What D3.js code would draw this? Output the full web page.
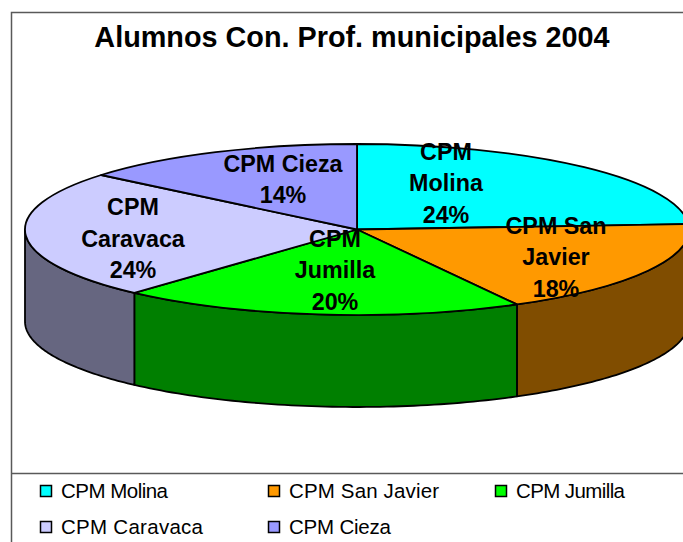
<!DOCTYPE html>
<html><head><meta charset="utf-8">
<script src="https://cdn.jsdelivr.net/npm/d3@7/dist/d3.min.js"></script>
<style>html,body{margin:0;padding:0;background:#fff;overflow:hidden}svg{display:block}text{font-family:"Liberation Sans",Arial,sans-serif}</style>
</head><body>
<script>
const title = "Alumnos Con. Prof. municipales 2004";
const categories = ["CPM Molina","CPM San Javier","CPM Jumilla","CPM Caravaca","CPM Cieza"];
const values = [24,18,19.7,24.3,14];
const topColors = ["#00ffff","#ff9900","#00ff00","#ccccff","#9999ff"];
const sideColors = ["#008080","#804d00","#007f00","#666680","#4d4d80"];
const labelLines = [["CPM","Molina"],["CPM San","Javier"],["CPM","Jumilla"],["CPM","Caravaca"],["CPM Cieza"]];
const labelAnchors = [[446,159.5],[556,233.5],[335,246.5],[133,215],[283,171.5]];
const legendTextWidths = [107,150,109,142,102];

const W=683,H=542,cx=357,cy=229.5,rx=332,ry=85.5,depth=92;
const svg=d3.select("body").append("svg").attr("width",W).attr("height",H);
svg.append("rect").attr("width",W).attr("height",H).attr("fill","#fff");
const frame="#595959";
svg.append("path").attr("d",`M${W},12.5H11.5V${H}M11.5,473.5H${W}`).attr("fill","none").attr("stroke",frame).attr("stroke-width",1.5);

svg.append("text").attr("x",352).attr("y",47).attr("text-anchor","middle")
  .attr("font-size",28.8).attr("font-weight","bold").text(title);

const arcs=d3.pie().sort(null).value(d=>d)(values);
const pt=a=>[cx+rx*Math.sin(a),cy-ry*Math.cos(a)];
const lo=Math.PI/2,hi=Math.PI*1.5;
// walls: only the front half of the rim is visible
arcs.forEach((d,i)=>{
  const a0=Math.max(d.startAngle,lo),a1=Math.min(d.endAngle,hi);
  if(a1<=a0) return;
  const samples=d3.range(0,61).map(k=>a0+(a1-a0)*k/60);
  const area=d3.area().x(a=>pt(a)[0]).y0(a=>pt(a)[1]).y1(a=>pt(a)[1]+depth);
  svg.append("path").attr("d",area(samples)).attr("fill",sideColors[i]).attr("stroke","#000").attr("stroke-width",1.8).attr("stroke-linejoin","round");
});
// top face
const arc=d3.arc().innerRadius(0).outerRadius(rx);
const topFace=svg.append("g").attr("transform",`translate(${cx},${cy}) scale(1,${ry/rx})`);
topFace.selectAll("path").data(arcs).join("path").attr("d",arc)
  .attr("fill",(d,i)=>topColors[i]).attr("stroke","#000").attr("stroke-width",1.8)
  .attr("vector-effect","non-scaling-stroke").attr("stroke-linejoin","round");

// labels
const total=d3.sum(values), fmt=v=>Math.round(v/total*100)+"%";
const lh=31.5;
values.forEach((v,i)=>{
  const lines=[...labelLines[i],fmt(v)];
  const [x,y]=labelAnchors[i];
  const t=svg.append("text").attr("text-anchor","middle").attr("font-size",23.3).attr("font-weight","bold").attr("fill","#000");
  lines.forEach((s,k)=>t.append("tspan").attr("x",x).attr("y",y+k*lh).text(s));
});

// legend
const legX=[40,268,495], legY=[491,527];
categories.forEach((c,i)=>{
  const col=i%3,row=Math.floor(i/3);
  svg.append("rect").attr("x",legX[col]+.5).attr("y",legY[row]-5.5).attr("width",11).attr("height",11)
    .attr("fill",topColors[i]).attr("stroke","#000").attr("stroke-width",1.5);
  svg.append("text").attr("x",legX[col]+21).attr("y",legY[row]+7).attr("font-size",20.5)
    .attr("textLength",legendTextWidths[i]).attr("lengthAdjust","spacing").attr("fill","#000").text(c);
});
</script>
</body></html>
